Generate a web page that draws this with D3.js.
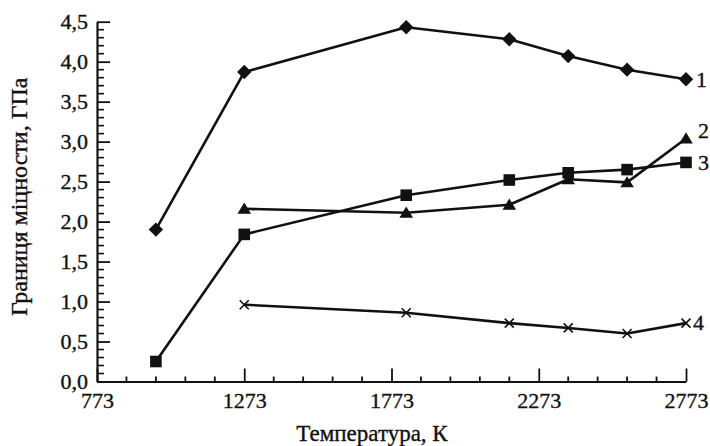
<!DOCTYPE html>
<html>
<head>
<meta charset="utf-8">
<script src="https://cdn.jsdelivr.net/npm/d3@7"></script>
<style>
  html, body { margin: 0; padding: 0; background: #fff; }
  svg { display: block; }
  text { font-family: "Liberation Serif", "DejaVu Serif", serif; fill: #111; stroke: #111; stroke-width: 0.35px; }
</style>
</head>
<body>
<svg id="chart" width="710" height="446"></svg>
<script>
// Temperature (K) and strength limit (GPa) for four materials
const temps1 = [973, 1273, 1823, 2173, 2373, 2573, 2773];
const vals1  = [1.90, 3.87, 4.43, 4.28, 4.07, 3.90, 3.78];
const temps2 = [1273, 1823, 2173, 2373, 2573, 2773];
const vals2  = [2.16, 2.11, 2.21, 2.53, 2.49, 3.04];
const temps3 = [973, 1273, 1823, 2173, 2373, 2573, 2773];
const vals3  = [0.25, 1.84, 2.33, 2.52, 2.61, 2.65, 2.74];
const temps4 = [1273, 1823, 2173, 2373, 2573, 2773];
const vals4  = [0.96, 0.86, 0.73, 0.67, 0.60, 0.73];

const seriesNames = ["1", "2", "3", "4"];
const xTicks = [773, 1273, 1773, 2273, 2773];
const yTicks = [0, 0.5, 1, 1.5, 2, 2.5, 3, 3.5, 4, 4.5];
const xTitle = "Температура, К";
const yTitle = "Границя міцности, ГПа";

const svg = d3.select("#chart");
const ink = "#111";

const x = d3.scaleLinear().domain([773, 2773]).range([97, 686]);
const y = d3.scaleLinear().domain([0, 4.5]).range([381.5, 21.7]);

const fmt = d => d3.format(".1f")(d).replace(".", ",");

// minor ticks (drawn inward)
const xMinor = d3.range(773, 2773 + 1, 100).filter(v => !xTicks.includes(v));
const yMinor = d3.range(0, 46).map(i => i / 10).filter(v => Math.round(v * 10) % 5 !== 0);

const gx = svg.append("g").attr("transform", `translate(0,${y(0)})`);
gx.call(d3.axisBottom(x).tickValues(xTicks).tickSize(0).tickFormat(d3.format("d")));
gx.select(".domain").attr("stroke", ink).attr("stroke-width", 2.2);
gx.selectAll(".tick text").attr("font-size", 22).attr("y", 26.5).attr("dy", 0)
  .attr("font-family", "Liberation Serif");
gx.selectAll(".tick").append("line").attr("y1", 0).attr("y2", -13).attr("stroke", ink).attr("stroke-width", 1.8);
gx.selectAll(".minor").data(xMinor).enter().append("line")
  .attr("x1", d => x(d)).attr("x2", d => x(d)).attr("y1", 0).attr("y2", -5)
  .attr("stroke", ink).attr("stroke-width", 1.8);

const gy = svg.append("g").attr("transform", `translate(${x(773)},0)`);
gy.call(d3.axisLeft(y).tickValues(yTicks).tickSize(0).tickPadding(9).tickFormat(fmt));
gy.select(".domain").attr("stroke", ink).attr("stroke-width", 2.2);
gy.selectAll(".tick text").attr("font-size", 22).attr("font-family", "Liberation Serif");
gy.selectAll(".tick").append("line").attr("x1", 0).attr("x2", 13).attr("stroke", ink).attr("stroke-width", 1.8);
gy.selectAll(".minor").data(yMinor).enter().append("line")
  .attr("y1", d => y(d)).attr("y2", d => y(d)).attr("x1", 0).attr("x2", 7)
  .attr("stroke", ink).attr("stroke-width", 1.6);

// axis titles
svg.append("text").attr("x", 372).attr("y", 441).attr("text-anchor", "middle")
  .attr("font-size", 23).text(xTitle);
svg.append("text").attr("transform", `translate(27,${y(2.31)}) rotate(-90)`)
  .attr("text-anchor", "middle").attr("font-size", 24).text(yTitle);

// marker shapes (path generators centred on 0,0)
const diamond = r => `M0,${-r}L${r},0L0,${r}L${-r},0Z`;
const triangle = r => `M0,${-r}L${r * 1.1},${r * 0.8}L${-r * 1.1},${r * 0.8}Z`;
const square = r => `M${-r},${-r}H${r}V${r}H${-r}Z`;

const series = [
  { t: temps1, v: vals1, shape: () => diamond(7.2) },
  { t: temps2, v: vals2, shape: () => triangle(6.2) },
  { t: temps3, v: vals3, shape: () => square(5.8) },
  { t: temps4, v: vals4, shape: null }
];

const line = d3.line().x(d => x(d[0])).y(d => y(d[1]));

series.forEach((s, i) => {
  const pts = s.t.map((t, j) => [t, s.v[j]]);
  const g = svg.append("g");
  g.append("path").attr("d", line(pts)).attr("fill", "none")
    .attr("stroke", ink).attr("stroke-width", 2.6).attr("stroke-linejoin", "round");
  if (!s.shape) {
    const r = 4.5;
    g.selectAll("path.m").data(pts).enter().append("path").attr("class", "m")
      .attr("d", d => `M${x(d[0]) - r},${y(d[1]) - r}L${x(d[0]) + r},${y(d[1]) + r}M${x(d[0]) - r},${y(d[1]) + r}L${x(d[0]) + r},${y(d[1]) - r}`)
      .attr("stroke", ink).attr("stroke-width", 1.6).attr("fill", "none");
  } else {
    g.selectAll("path.m").data(pts).enter().append("path").attr("class", "m")
      .attr("transform", d => `translate(${x(d[0])},${y(d[1])})`)
      .attr("d", s.shape())
      .attr("fill", ink);
  }
});

// series numbers at the right end of each curve
const labelPos = [
  { v: vals1[vals1.length - 1], dx: 10, dy: 0 },
  { v: vals2[vals2.length - 1], dx: 12, dy: -8 },
  { v: vals3[vals3.length - 1], dx: 12, dy: 0 },
  { v: vals4[vals4.length - 1], dx: 7, dy: -1 }
];
labelPos.forEach((p, i) => {
  svg.append("text").attr("x", x(2773) + p.dx).attr("y", y(p.v) + p.dy)
    .attr("dy", "0.35em").attr("font-size", 22).text(seriesNames[i]);
});
</script>
</body>
</html>
